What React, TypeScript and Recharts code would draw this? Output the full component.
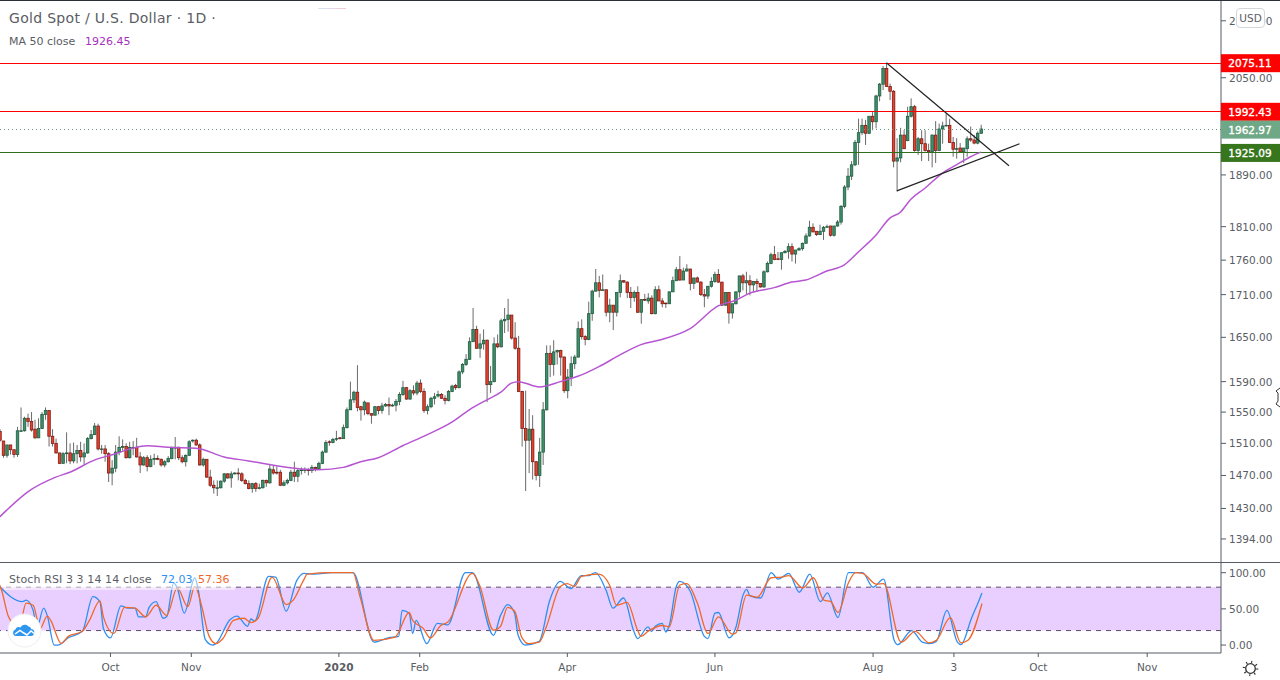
import { Bar, ComposedChart, Line, ReferenceArea, ReferenceLine, XAxis, YAxis } from "recharts";

const opens = [
  1525,1513,1495,1508,1502,1496,1526,1526,1542,1538,
  1528,1517,1529,1547,1552,1519,1510,1498,1485,1497,
  1498,1488,1497,1501,1493,1498,1516,1521,1532,1503,
  1503,1497,1473,1479,1499,1505,1506,1492,1505,1505,
  1493,1483,1492,1481,1490,1491,1490,1483,1487,1491,
  1504,1505,1492,1487,1495,1513,1514,1508,1483,1490,
  1468,1458,1455,1455,1463,1472,1467,1472,1473,1472,
  1464,1460,1454,1460,1454,1455,1464,1461,1477,1474,
  1474,1458,1461,1464,1474,1469,1476,1477,1477,1476,
  1480,1478,1485,1499,1512,1511,1516,1517,1516,1530,
  1553,1566,1576,1557,1553,1562,1548,1546,1557,1552,
  1558,1560,1558,1559,1564,1573,1582,1567,1578,1575,
  1588,1577,1552,1557,1568,1571,1573,1568,1565,1577,
  1585,1582,1603,1613,1620,1644,1661,1635,1641,1646,
  1586,1590,1641,1637,1673,1675,1681,1649,1635,1577,
  1529,1514,1528,1487,1470,1499,1553,1628,1613,1630,
  1632,1623,1578,1596,1614,1623,1662,1651,1647,1683,
  1715,1727,1716,1717,1685,1695,1685,1713,1730,1728,
  1713,1706,1713,1685,1703,1701,1705,1683,1717,1701,
  1698,1697,1714,1730,1746,1731,1744,1747,1726,1734,
  1728,1710,1708,1722,1729,1739,1728,1695,1713,1684,
  1697,1714,1737,1727,1730,1724,1729,1726,1721,1743,
  1755,1768,1762,1761,1771,1773,1780,1769,1775,1777,
  1785,1796,1809,1803,1798,1803,1809,1811,1797,1811,
  1817,1841,1871,1888,1906,1942,1958,1970,1957,1985,
  1976,2019,2039,2066,2035,2027,1912,1917,1954,1945,
  1985,2001,1929,1948,1940,1929,1927,1954,1929,1964,
  1969,1970,1942,1931,1933,1927,1932,1948,1946,1941,
  1957,
];

const closes = [
  1514,1495,1508,1502,1496,1526,1526,1542,1538,1527,
  1517,1529,1547,1552,1519,1510,1498,1485,1497,1498,
  1488,1497,1501,1493,1498,1516,1521,1532,1503,1503,
  1497,1473,1479,1499,1505,1506,1492,1505,1505,1493,
  1483,1492,1481,1490,1491,1490,1483,1487,1491,1504,
  1505,1492,1487,1495,1512,1514,1508,1483,1490,1468,
  1458,1455,1455,1463,1472,1467,1472,1473,1472,1464,
  1460,1454,1460,1454,1455,1464,1461,1478,1473,1473,
  1458,1461,1464,1474,1469,1476,1477,1477,1476,1480,
  1478,1485,1499,1511,1511,1515,1516,1516,1530,1553,
  1566,1576,1556,1553,1563,1548,1546,1557,1552,1558,
  1560,1558,1559,1564,1573,1582,1567,1578,1575,1588,
  1577,1552,1557,1568,1570,1573,1568,1565,1577,1584,
  1582,1603,1613,1620,1644,1661,1635,1641,1646,1586,
  1590,1641,1637,1673,1675,1681,1649,1635,1577,1529,
  1514,1528,1487,1470,1499,1553,1628,1613,1630,1632,
  1623,1578,1596,1614,1623,1662,1651,1647,1683,1715,
  1727,1716,1717,1685,1695,1685,1713,1730,1728,1713,
  1706,1713,1685,1703,1702,1705,1683,1717,1701,1697,
  1697,1714,1730,1746,1731,1744,1747,1726,1734,1728,
  1710,1708,1722,1729,1739,1728,1695,1713,1684,1697,
  1714,1737,1727,1730,1724,1729,1726,1721,1743,1755,
  1768,1761,1761,1771,1773,1780,1769,1775,1777,1785,
  1796,1809,1802,1798,1803,1809,1810,1797,1811,1817,
  1841,1871,1888,1906,1942,1958,1970,1957,1985,1976,
  2019,2039,2066,2035,2027,1912,1917,1954,1932,1985,
  2001,1929,1948,1940,1929,1927,1954,1929,1964,1969,
  1970,1942,1931,1932,1927,1933,1948,1946,1941,1957,
  1964,
];

const highs = [
  1528,1513,1508,1508,1502,1531,1556,1544,1548,1550,
  1540,1542,1550,1556,1552,1528,1516,1498,1499,1524,
  1510,1511,1508,1512,1510,1518,1527,1536,1535,1508,
  1508,1499,1489,1508,1519,1515,1510,1512,1513,1517,
  1499,1494,1495,1495,1497,1495,1491,1489,1494,1506,
  1518,1506,1495,1496,1514,1515,1516,1510,1492,1490,
  1477,1464,1464,1464,1473,1473,1475,1474,1479,1474,
  1466,1464,1461,1462,1460,1465,1465,1484,1483,1481,
  1477,1464,1466,1477,1487,1479,1480,1480,1479,1483,
  1481,1487,1501,1514,1514,1517,1526,1518,1534,1556,
  1590,1578,1612,1558,1565,1562,1548,1558,1558,1562,
  1562,1569,1561,1567,1576,1591,1583,1580,1585,1591,
  1593,1581,1560,1570,1575,1578,1575,1572,1579,1586,
  1587,1605,1615,1627,1650,1691,1666,1655,1661,1647,
  1611,1650,1654,1676,1691,1704,1681,1671,1652,1578,
  1578,1554,1546,1488,1517,1563,1639,1639,1646,1633,
  1633,1624,1607,1624,1626,1672,1675,1653,1700,1717,
  1747,1737,1739,1717,1704,1695,1713,1739,1731,1729,
  1721,1716,1722,1703,1711,1712,1709,1722,1723,1705,
  1698,1714,1736,1750,1766,1749,1754,1747,1734,1736,
  1729,1718,1722,1735,1743,1747,1728,1713,1713,1697,
  1714,1737,1740,1743,1738,1729,1733,1726,1745,1758,
  1771,1781,1772,1771,1775,1785,1785,1775,1779,1786,
  1800,1819,1815,1803,1813,1811,1813,1811,1811,1820,
  1843,1874,1901,1912,1946,1981,1981,1979,1985,1992,
  2021,2041,2070,2075,2040,2029,1949,1966,1962,2001,
  2015,2004,1951,1962,1962,1940,1955,1977,1973,1976,
  1990,1981,1951,1949,1941,1933,1952,1968,1954,1960,
  1971,
];

const lows = [
  1512,1492,1492,1496,1492,1493,1525,1525,1531,1525,
  1516,1517,1529,1540,1506,1506,1497,1484,1485,1485,
  1484,1485,1485,1487,1483,1497,1515,1521,1501,1497,
  1487,1462,1458,1474,1495,1501,1491,1491,1495,1492,
  1473,1482,1475,1480,1483,1489,1481,1480,1486,1490,
  1490,1489,1485,1481,1494,1511,1507,1482,1481,1467,
  1456,1448,1445,1454,1461,1466,1455,1471,1464,1462,
  1459,1453,1449,1450,1453,1454,1456,1460,1471,1471,
  1457,1457,1459,1463,1462,1462,1471,1473,1470,1473,
  1475,1477,1484,1498,1507,1510,1513,1515,1516,1529,
  1553,1562,1551,1539,1546,1546,1535,1546,1547,1548,
  1557,1546,1557,1551,1559,1571,1566,1566,1572,1572,
  1575,1549,1547,1555,1560,1569,1567,1560,1564,1576,
  1579,1581,1600,1611,1619,1644,1634,1622,1633,1563,
  1575,1589,1635,1636,1656,1658,1647,1633,1576,1506,
  1451,1473,1465,1464,1456,1483,1552,1596,1598,1613,
  1598,1575,1568,1584,1607,1622,1647,1639,1646,1673,
  1714,1706,1716,1679,1671,1660,1679,1706,1727,1705,
  1691,1700,1684,1669,1701,1697,1682,1682,1701,1692,
  1691,1697,1714,1730,1730,1731,1744,1716,1718,1728,
  1708,1692,1704,1720,1727,1727,1694,1694,1669,1676,
  1696,1706,1716,1711,1709,1714,1714,1720,1720,1742,
  1754,1760,1760,1746,1770,1762,1758,1755,1774,1774,
  1785,1795,1802,1796,1798,1790,1809,1795,1795,1810,
  1813,1838,1866,1882,1904,1906,1954,1938,1956,1962,
  1965,2010,2029,2035,2012,1902,1864,1910,1931,1944,
  1983,1927,1922,1912,1927,1912,1902,1909,1928,1940,
  1968,1941,1919,1916,1926,1909,1919,1943,1939,1939,
  1956,
];

// MA 50 readings, taken where the curve bends
const maBars = [
  0,2,8,16,20,27,33,38,42,48,56,64,71,79,86,91,98,103,108,115,122,129,134,139,143,146,148,154,160,166,
  171,177,183,188,197,205,210,214,221,226,230,236,241,245,250,254,257,260,264,269,273,277,280,
];
const maValues = [
  1420,1428,1450,1468,1474,1489,1497,1504,1507,1505,1504,1493,1488,1482,1478,1477,1480,1487,1492,1507,
  1521,1537,1553,1566,1576,1588,1590,1583,1590,1599,1610,1626,1640,1646,1662,1694,1702,1712,1720,1728,
  1731,1744,1753,1772,1797,1823,1832,1852,1869,1893,1906,1919,1926.45,
];

// Stoch RSI readings at the turning points
const kBars = [
  0,7,8,10,11,13,14,16,17,20,24,27,29,30,32,35,37,39,40,42,43,45,47,48,50,51,53,56,57,59,61,62,66,68,71,72,73,77,79,82,
  85,87,90,95,101,107,111,114,115,117,118,119,122,125,128,133,135,141,143,145,147,148,150,154,157,160,163,166,168,170,
  173,175,178,181,182,185,186,187,189,190,191,193,194,197,201,202,204,205,208,210,212,213,214,217,220,222,225,228,231,234,
  236,239,242,246,249,252,255,256,260,263,265,267,270,273,274,277,279,280,
];
const kValues = [
  83,60,62,48,23,51,41,0,0,10,19,67,60,23,10,54,51,51,39,39,52,60,37,39,86,79,44,93,76,7.5,0,2,35,40,26,36,33,95,94,47,
  89,99,98,100,100,4,10,12,48,44,16,34,2,30,28,100,100,13.5,41,56,44,13.5,0,5,62,88,78,96,96,100,
  76,51,65,18,9,25,19,26,30,18,27,81,88,74,12,9,44,45,10,25,69,77,68,65,100,91,99,73,98,60,
  72,38,100,100,80,91,6.5,0.5,20,4,2,5,48,4,0.5,37,60,72.03,
];
const dBars = [
  0,1,3,6,8,10,12,14,15,18,20,24,26,29,30,33,36,39,42,45,48,51,54,56,58,60,62,64,67,70,72,74,78,82,84,87,88,95,101,103,
  107,113,117,118,121,123,126,128,135,137,141,143,145,147,149,151,154,156,160,162,164,166,171,174,176,179,182,183,185,189,
  191,194,196,199,202,205,209,210,213,216,220,223,225,229,232,235,237,239,242,244,246,250,252,257,261,265,267,271,274,276,
  280,
];
const dValues = [
  88,76,39,23,58,55,23,40,34,2,12,19,34,61,39,16,52,51,39,55,41,79,53,81,53,13,2,9,34,37,31,37,94,56,62,90,98,100,100,67,
  6.5,11,45,34,23,10,27,32,99,83,20.5,26,52,47,11,2,4,25,81,85,81,95,98,83,55,59,20.5,12,19,27,
  25,83,85,58,16,39,15,17,69,66,93,94,96,79,93,62,60,45,86,100,99,84,85,4,19,3,6.5,38,3,6.5,
  57.36,
];

const barSlots = 349;
const priceTicks = [2150, 2050, 1890, 1810, 1760, 1710, 1650, 1590, 1550, 1510, 1470, 1430, 1394];
const stochTicks = [0, 50, 100];
const timeBars = [32, 55, 97, 120, 162, 204, 249, 272, 296, 327];
const timeLabels = ["Oct", "Nov", "2020", "Feb", "Apr", "Jun", "Aug", "3", "Oct", "Nov"];

const highLevel = 2075.11;
const resistance = 1992.43;
const lastPrice = 1962.97;
const support = 1925.09;
const priceTags: Record<string, { color: string }> = {
  [highLevel]: { color: "#ff0000" },
  [resistance]: { color: "#ff0000" },
  [lastPrice]: { color: "#6fa886" },
  [support]: { color: "#38761d" },
};

const rows = Array.from({ length: barSlots }, (_, i) => ({
  i,
  open: opens[i],
  close: closes[i],
  high: highs[i],
  low: lows[i],
  range: i < opens.length ? [lows[i], highs[i]] : undefined,
  ma: maBars.includes(i) ? maValues[maBars.indexOf(i)] : null,
  k: kBars.includes(i) ? kValues[kBars.indexOf(i)] : null,
  d: dBars.includes(i) ? dValues[dBars.indexOf(i)] : null,
}));

const axisColor = "#555a63";
const textColor = "#5a5d64";
const font = "'DejaVu Sans', sans-serif";

function Candle(props: any) {
  const { x, y, width, height, payload } = props;
  if (payload.open == null || !Number.isFinite(y)) return null;
  // Bar gives the pixel span of low..high, the axis is log so place the body the same way
  const span = Math.log(payload.high / payload.low) || 1;
  const toY = (p: number) => y + (height * Math.log(payload.high / p)) / span;
  const cx = x + width / 2;
  const up = payload.close >= payload.open;
  const top = toY(Math.max(payload.open, payload.close));
  const bottom = toY(Math.min(payload.open, payload.close));
  return (
    <g>
      <line x1={cx} x2={cx} y1={y} y2={y + height} stroke="#6b6b6b" strokeWidth={1} />
      <rect
        x={cx - 1.25}
        y={top}
        width={2.5}
        height={Math.max(bottom - top, 0.6)}
        fill={up ? "#3f8f6a" : "#e8402c"}
        stroke={up ? "#1f5c40" : "#7a1c14"}
        strokeWidth={0.8}
      />
    </g>
  );
}

function PriceTick(props: any) {
  const { x, y, payload } = props;
  const tag = priceTags[payload.value];
  if (tag) {
    return (
      <g>
        <rect x={x} y={y - 9} width={59} height={18} fill={tag.color} />
        <text
          x={x + 29}
          y={y + 4}
          textAnchor="middle"
          fill="#fff"
          stroke="#fff"
          strokeWidth={0.35}
          fontSize={10.5}
          fontFamily={font}
        >
          {payload.value.toFixed(2)}
        </text>
      </g>
    );
  }
  return (
    <g>
      <line x1={x} x2={x + 5} y1={y} y2={y} stroke={axisColor} />
      <text x={x + 8} y={y + 4} fill={textColor} fontSize={10.5} fontFamily={font}>
        {payload.value.toFixed(2)}
      </text>
    </g>
  );
}

function TimeTick(props: any) {
  const { x, y, payload } = props;
  const label = timeLabels[timeBars.indexOf(payload.value)];
  return (
    <text
      x={x}
      y={y + 12}
      textAnchor="middle"
      fill={textColor}
      fontSize={10.5}
      fontWeight={label === "2020" ? 700 : 400}
      fontFamily={font}
    >
      {label}
    </text>
  );
}

function Tag(text: string, left: number, top: number, color: string, size: number, spacing = 0) {
  return (
    <div
      style={{
        position: "absolute", left, top, color, fontSize: size, fontFamily: font, whiteSpace: "nowrap", lineHeight: 1,
        letterSpacing: spacing,
      }}
    >
      {text}
    </div>
  );
}

export default function App() {
  return (
    <div style={{ position: "fixed", left: 0, top: 0, width: 1280, height: 680, overflow: "hidden", background: "#fff" }}>
      <div style={{ position: "absolute", left: -2, top: 0 }}>
        <ComposedChart width={1282} height={562} data={rows} margin={{ top: 0, right: 0, bottom: 0, left: 0 }} barCategoryGap={0}>
          <XAxis dataKey="i" hide />
          <YAxis
            orientation="right"
            width={59}
            scale="log"
            domain={[1367.4, 2187.7]}
            allowDataOverflow
            ticks={[...priceTicks, highLevel, resistance, lastPrice, support]}
            interval={0}
            tick={PriceTick}
            tickLine={false}
            tickSize={0}
            tickMargin={0}
            axisLine={{ stroke: axisColor }}
          />
          <ReferenceLine y={highLevel} stroke="#ff0000" shapeRendering="crispEdges" />
          <ReferenceLine y={resistance} stroke="#ff0000" shapeRendering="crispEdges" />
          <ReferenceLine y={lastPrice} stroke="#5f9a7a" strokeDasharray="1 3" shapeRendering="crispEdges" />
          <ReferenceLine y={support} stroke="#2f6f1c" shapeRendering="crispEdges" />
          <Bar dataKey="range" shape={Candle} isAnimationActive={false} />
          <Line dataKey="ma" connectNulls type="monotone" dot={false} stroke="#b655d2" strokeWidth={1.5} isAnimationActive={false} />
          <ReferenceLine segment={[{ x: 253, y: 2076 }, { x: 288, y: 1904.5 }]} stroke="#222" strokeWidth={1.2} />
          <ReferenceLine segment={[{ x: 256, y: 1865 }, { x: 291, y: 1940 }]} stroke="#222" strokeWidth={1.2} />
        </ComposedChart>
      </div>

      <div style={{ position: "absolute", left: -2, top: 563 }}>
        <ComposedChart width={1282} height={117} data={rows} margin={{ top: 0, right: 0, bottom: 0, left: 0 }}>
          <XAxis
            dataKey="i"
            ticks={timeBars}
            interval={0}
            height={27}
            tick={TimeTick}
            tickSize={4}
            tickLine={{ stroke: axisColor }}
            axisLine={{ stroke: axisColor }}
          />
          <YAxis
            orientation="right"
            width={59}
            domain={[-11, 113.4]}
            allowDataOverflow
            ticks={stochTicks}
            interval={0}
            tick={PriceTick}
            tickLine={false}
            tickSize={0}
            tickMargin={0}
            axisLine={{ stroke: axisColor }}
          />
          <ReferenceArea y1={20} y2={80} fill="#e9cfff" fillOpacity={1} stroke="none" />
          <ReferenceLine y={80} stroke="#5d4b6b" strokeDasharray="5 5" />
          <ReferenceLine y={20} stroke="#5d4b6b" strokeDasharray="5 5" />
          <Line dataKey="k" connectNulls type="monotone" dot={false} stroke="#2f8fef" strokeWidth={1.3} isAnimationActive={false} />
          <Line dataKey="d" connectNulls type="monotone" dot={false} stroke="#f0682a" strokeWidth={1.3} isAnimationActive={false} />
        </ComposedChart>
      </div>

      <div style={{ position: "absolute", left: 0, top: 0, width: 1280, height: 1, background: "#2a2e39" }} />
      <div style={{ position: "absolute", left: 0, top: 562, width: 1280, height: 1, background: axisColor }} />
      <div style={{ position: "absolute", left: 318, top: 8, width: 28, height: 1, background: "linear-gradient(90deg, #cfe6f7, #f5c6d8)" }} />

      {Tag("Gold Spot / U.S. Dollar · 1D ·", 9, 11, textColor, 14, 0.3)}
      {Tag("MA 50 close", 9, 36, textColor, 11)}
      {Tag("1926.45", 85, 36, "#a531bd", 11)}

      <div style={{ position: "absolute", left: 4, top: 571, width: 231, height: 19, background: "rgba(255,255,255,0.5)" }} />
      {Tag("Stoch RSI 3 3 14 14 close", 9, 574, textColor, 11, 0.1)}
      {Tag("72.03", 161, 574, "#2f8fef", 11)}
      {Tag("57.36", 198, 574, "#f0682a", 11)}

      <div
        style={{
          position: "absolute", left: 1236, top: 8, width: 27, height: 18, background: "#fff", border: "1px solid #d4d6da",
          borderRadius: 4, color: textColor, fontSize: 10.5, fontFamily: font, textAlign: "center", lineHeight: "18px",
        }}
      >
        USD
      </div>

      <svg style={{ position: "absolute", left: 7, top: 613 }} width={35} height={35}>
        <circle cx={17.5} cy={17.5} r={16.5} fill="#fff" stroke="#eceef2" />
        <path d="M9 23c-3.5 0-4-5.500-.5-6.500 .5-3 4-3 5-2 1-3 6-4 8-1 1.500 0 2.500 1 2.500 2.500 3 0 4 3 3 5-.5 1-1.500 2-3 2z" fill="#2f96f0" />
        <path d="M8 21l5-3.500 3 2 4 2.500 4-4 4 3" fill="none" stroke="#fff" strokeWidth={1.5} />
      </svg>

      <svg style={{ position: "absolute", left: 1270, top: 385 }} width={10} height={25}>
        <path d="M10 3L6 6l2 2v8l-2 3 4 3" fill="none" stroke="#333" strokeWidth={1} />
      </svg>

      <svg style={{ position: "absolute", left: 1242, top: 660 }} width={17} height={17}>
        <circle cx={8.500} cy={8.500} r={4.800} fill="none" stroke="#333" strokeWidth={1.3} />
        <circle cx={8.500} cy={8.500} r={6.500} fill="none" stroke="#333" strokeWidth={2.500} strokeDasharray="1 4.100" />
      </svg>
    </div>
  );
}
